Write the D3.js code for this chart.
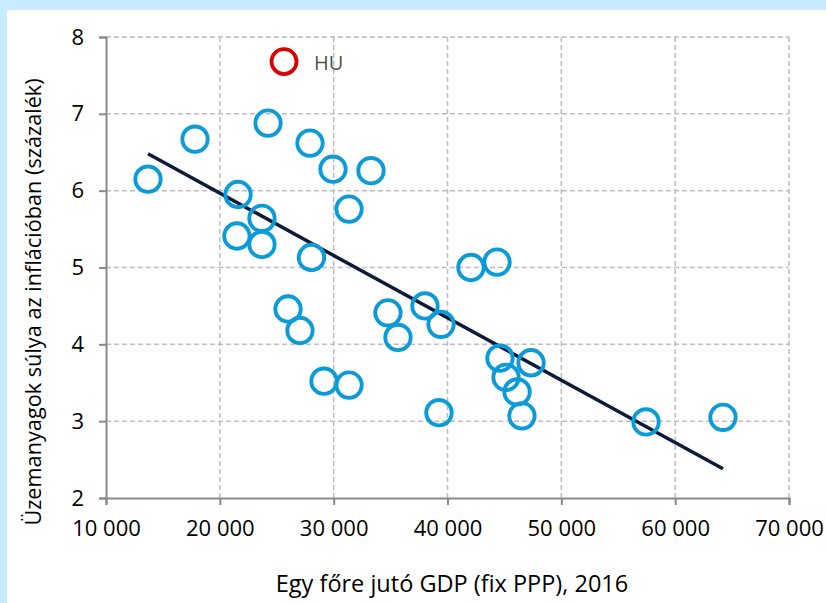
<!DOCTYPE html>
<html>
<head>
<meta charset="utf-8">
<script src="https://cdn.jsdelivr.net/npm/d3@7"></script>
<style>
  body { margin: 0; background: #fff; }
  text { font-family: "Open Sans", "Liberation Sans", sans-serif; }
</style>
</head>
<body>
<svg id="chart" width="826" height="603"></svg>
<script>
"use strict";

// GDP per capita (fixed PPP), 2016
var gdp = [13690, 17820, 24230, 27920, 29940, 33280, 31350, 21600, 23700, 21500,
           23700, 28050, 42060, 44350, 38020, 34770, 39430, 35650, 25990, 27040,
           44610, 47340, 45140, 46110, 46540, 39250, 29150, 31350, 57440, 64200];
// fuel weight in inflation (percent)
var fuelWeight = [6.15, 6.67, 6.88, 6.62, 6.28, 6.26, 5.76, 5.95, 5.64, 5.41,
                  5.30, 5.13, 5.00, 5.07, 4.50, 4.41, 4.26, 4.09, 4.46, 4.18,
                  3.82, 3.76, 3.57, 3.38, 3.07, 3.11, 3.52, 3.47, 2.99, 3.05];

// Hungary
var huLabel = ["HU"];
var huGdp = [25640];
var huWeight = [7.68];

// fitted trend line end points
var trendGdp = [13690, 64200];
var trendWeight = [6.48, 2.38];

var xTicks = [10000, 20000, 30000, 40000, 50000, 60000, 70000];
var yTicks = [2, 3, 4, 5, 6, 7, 8];

var xTitle = "Egy főre jutó GDP (fix PPP), 2016";
var yTitle = "Üzemanyagok súlya az inflációban (százalék)";

var width = 826, height = 603;
var margin = {left: 106, right: 37, top: 37, bottom: 105};

var svg = d3.select("#chart");

// light blue frame
svg.append("rect").attr("width", width).attr("height", height).attr("fill", "#c6ecfd");
svg.append("rect").attr("x", 7).attr("y", 10)
    .attr("width", width - 7).attr("height", height - 10).attr("fill", "#fff");

var x = d3.scaleLinear().domain([10000, 70000]).range([margin.left, width - margin.right]);
var y = d3.scaleLinear().domain([2, 8]).range([height - margin.bottom, margin.top]);

var huLocale = d3.formatLocale({decimal: ",", thousands: " ", grouping: [3], currency: ["", ""]});
var fmt = huLocale.format(",d");

// grid
var grid = svg.append("g").attr("stroke", "#bdbdbd").attr("stroke-width", 1.5)
    .attr("stroke-dasharray", "5,3");
grid.selectAll(".gx").data(xTicks.slice(1)).enter().append("line")
    .attr("x1", d => x(d)).attr("x2", d => x(d))
    .attr("y1", y(8)).attr("y2", y(2));
grid.selectAll(".gy").data(yTicks.slice(1)).enter().append("line")
    .attr("x1", x(10000)).attr("x2", x(70000))
    .attr("y1", d => y(d)).attr("y2", d => y(d));

// axes
var xAxis = svg.append("g").attr("transform", "translate(0," + y(2) + ")")
    .call(d3.axisBottom(x).tickValues(xTicks).tickFormat(fmt).tickSize(7).tickPadding(15));
var yAxis = svg.append("g").attr("transform", "translate(" + x(10000) + ",0)")
    .call(d3.axisLeft(y).tickValues(yTicks).tickFormat(d3.format("d")).tickSize(7).tickPadding(15));

[xAxis, yAxis].forEach(function(a) {
    a.select(".domain").attr("stroke", "#8a8a8a").attr("stroke-width", 2);
    a.selectAll(".tick line").attr("stroke", "#8a8a8a").attr("stroke-width", 2);
    a.selectAll(".tick text").attr("fill", "#000").style("font-size", "22px")
        .style("font-family", "'Open Sans', sans-serif");
});

// axis titles
svg.append("text").attr("x", 452).attr("y", 592)
    .attr("text-anchor", "middle").style("font-size", "23.5px").attr("fill", "#000")
    .text(xTitle);
svg.append("text").attr("transform", "translate(41,302) rotate(-90)")
    .attr("text-anchor", "middle").style("font-size", "21.7px").attr("fill", "#000")
    .text(yTitle);

// trend line
svg.append("path")
    .datum(d3.zip(trendGdp, trendWeight))
    .attr("fill", "none").attr("stroke", "#0d1a3a").attr("stroke-width", 3.5)
    .attr("d", d3.line().x(d => x(d[0])).y(d => y(d[1])));

// countries
svg.append("g").selectAll("circle")
    .data(d3.zip(gdp, fuelWeight)).enter().append("circle")
    .attr("cx", d => x(d[0])).attr("cy", d => y(d[1])).attr("r", 12.7)
    .attr("fill", "none").attr("stroke", "#0b9bd8").attr("stroke-width", 3.9);

// Hungary
var hu = d3.zip(huGdp, huWeight, huLabel);
svg.append("g").selectAll("circle")
    .data(hu).enter().append("circle")
    .attr("cx", d => x(d[0])).attr("cy", d => y(d[1])).attr("r", 12.5)
    .attr("fill", "none").attr("stroke", "#d90000").attr("stroke-width", 3.8);
svg.append("g").selectAll("text")
    .data(hu).enter().append("text")
    .attr("x", d => x(d[0]) + 30).attr("y", d => y(d[1]) + 8)
    .style("font-size", "20px").attr("fill", "#505050")
    .text(d => d[2]);
</script>
</body>
</html>
